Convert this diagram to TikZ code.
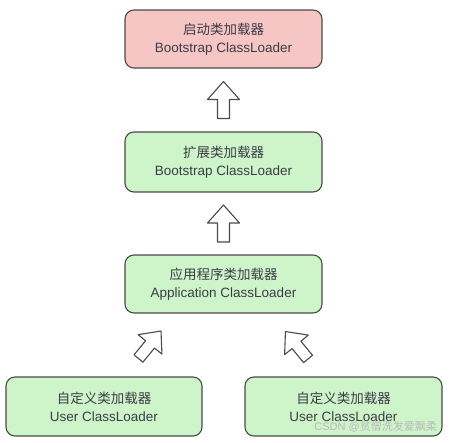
\documentclass[tikz,border=0pt]{standalone}
\usepackage{fontspec}
\setmainfont{Liberation Sans}
\newfontfamily\cjk{Noto Sans CJK SC}
\usetikzlibrary{calc}
\definecolor{pinkfill}{HTML}{F6C6C5}
\definecolor{greenfill}{HTML}{CEF5C9}
\definecolor{edgecol}{HTML}{4A4A4A}
\definecolor{txtcol}{HTML}{3C3C48}
\tikzset{
  box/.style={draw=edgecol, line width=1.1pt, rounded corners=9pt,
    minimum width=197pt, minimum height=58pt, align=center, text=txtcol,
    font=\fontsize{13.5}{18}\selectfont, inner sep=0pt},
  blockarrow/.style={draw=edgecol, line width=1.1pt, fill=white, line join=round},
}
\newcommand\blockarr[3]{%
  \begin{scope}[shift={(#1)}, rotate=#2, scale=#3]
    \draw[blockarrow] (-18.5,-6) -- (0.5,-6) -- (0.5,-16) -- (18.5,0) -- (0.5,16) -- (0.5,6) -- (-18.5,6) -- cycle;
  \end{scope}}
\begin{document}
\begin{tikzpicture}[x=1pt,y=1pt]
\useasboundingbox (0,0) rectangle (452,-442);
\node[box, fill=pinkfill] (b1) at (223.5,-39) {{\cjk 启动类加载器}\\Bootstrap ClassLoader};
\node[box, fill=greenfill, minimum height=60pt] (b2) at (223.5,-162) {{\cjk 扩展类加载器}\\Bootstrap ClassLoader};
\node[box, fill=greenfill] (b3) at (223.5,-284) {{\cjk 应用程序类加载器}\\Application ClassLoader};
\node[box, fill=greenfill, minimum width=196pt, minimum height=59pt] (b4) at (104,-406.5) {{\cjk 自定义类加载器}\\User ClassLoader};
\node[box, fill=greenfill, minimum height=59pt] (b5) at (343.5,-406.5) {{\cjk 自定义类加载器}\\User ClassLoader};
\coordinate (a1) at ($(b1.south)!0.5!(b2.north)$);
\coordinate (a2) at ($(b2.south)!0.5!(b3.north)$);
\coordinate (a3) at (149.75,-344.75);
\coordinate (a4) at (296.75,-345.25);
\blockarr{a1}{90}{1}
\blockarr{a2}{90}{1}
\blockarr{a3}{50.7}{0.96}
\blockarr{a4}{129.5}{0.96}
\node[text=gray!55, font=\fontsize{11}{13}\selectfont, anchor=east, inner sep=0pt] (wm) at (437,-427) {CSDN @{\cjk 贫僧洗发爱飘柔}};
\end{tikzpicture}
\end{document}
